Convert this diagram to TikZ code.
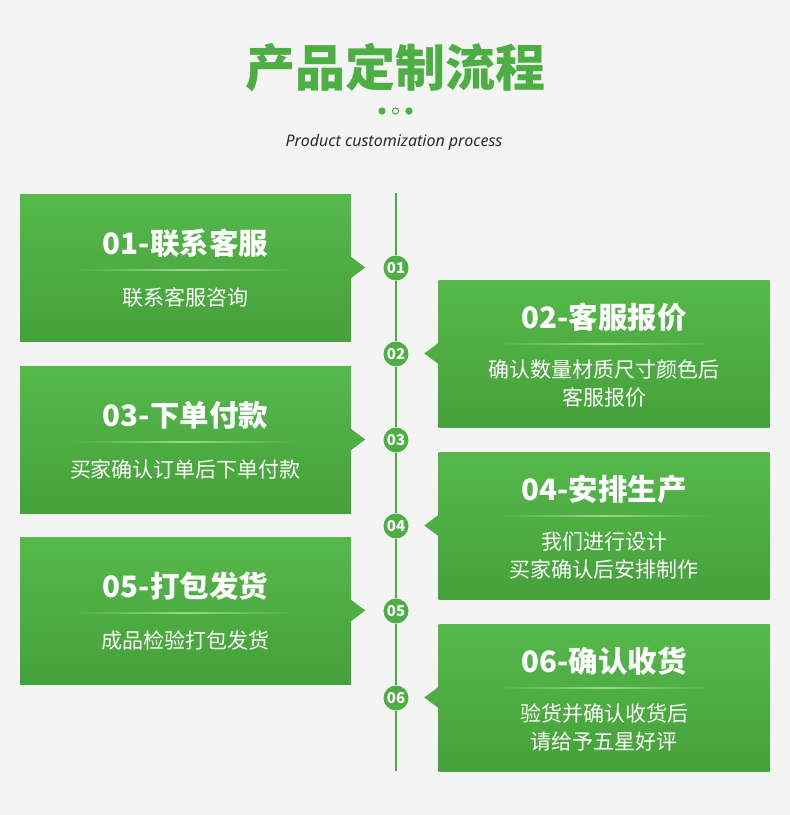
\documentclass[tikz,border=0pt]{standalone}
\usepackage{fontspec}
\setmainfont{Noto Sans}
\newfontfamily\cjk{Noto Sans CJK SC}
\usetikzlibrary{positioning,calc}
\definecolor{bgpaper}{HTML}{F4F4F4}
\definecolor{leaf}{HTML}{4DAF43}
\definecolor{leaftop}{HTML}{56B84B}
\definecolor{leafbot}{HTML}{45A13A}
\definecolor{leafmid}{HTML}{4EAD43}
\definecolor{leafsep}{HTML}{9CD593}
\definecolor{inkdark}{HTML}{2A2A2A}
\tikzset{
  stepcard/.style={rectangle,minimum width=331pt,minimum height=147pt,
                   inner sep=0pt,top color=leaftop,bottom color=leafbot},
  cardtitle/.style={font=\cjk\bfseries\fontsize{29.5}{34}\selectfont,
                    text=white,inner sep=0pt},
  cardtext/.style={font=\cjk\fontsize{21}{28}\selectfont,text=white,
                   align=center,inner sep=0pt},
  stepdot/.style={circle,fill=leaf,minimum size=25pt,inner sep=0pt,
                  text=white,font=\cjk\bfseries\fontsize{15}{15}\selectfont},
  spine/.style={draw=leaf,line width=1.3pt}
}
\begin{document}
\begin{tikzpicture}[x=1pt,y=-1pt]
  \fill[bgpaper] (0,0) rectangle (790,815);

  \node[font=\cjk\bfseries\fontsize{50}{60}\selectfont,text=leaf]
    (maintitle) at (395,68) {产品定制流程};
  \fill[leaf] (382,111) circle (3.6);
  \draw[leaf,line width=1.1pt] (395.5,111) circle (3.1);
  \fill[leaf] (409,111) circle (3.6);
  \node[font=\itshape\fontsize{16}{18}\selectfont,text=inkdark]
    (subtitle) at (394,142) {Product customization process};

  \foreach \i/\cx/\cy/\side/\dir/\ty/\head/\body in {
      1/185.5/267.5/east/1/-24.5/{01-联系客服}/{联系客服咨询},
      2/604/353.5/west/-1/-36.5/{02-客服报价}/{确认数量材质尺寸颜色后\\客服报价},
      3/185.5/439.5/east/1/-24.5/{03-下单付款}/{买家确认订单后下单付款},
      4/604/525.5/west/-1/-36.5/{04-安排生产}/{我们进行设计\\买家确认后安排制作},
      5/185.5/610.5/east/1/-24.5/{05-打包发货}/{成品检验打包发货},
      6/604/697.5/west/-1/-36.5/{06-确认收货}/{验货并确认收货后\\请给予五星好评}}{
    \node[stepcard] (c\i) at (\cx,\cy) {};
    \fill[leafmid] ([yshift=10.5pt]c\i.\side) -- ([xshift=\dir*14pt]c\i.\side)
      -- ([yshift=-10.5pt]c\i.\side) -- cycle;
    \node[cardtitle] (h\i) at ($(c\i.center)+(0,\ty)$) {\head};
    \shade[left color=leafmid,right color=leafsep]
      ($(c\i.center)+(-110,\ty+26.6)$) rectangle ($(c\i.center)+(0,\ty+27.4)$);
    \shade[left color=leafsep,right color=leafmid]
      ($(c\i.center)+(0,\ty+26.6)$) rectangle ($(c\i.center)+(110,\ty+27.4)$);
    \node[cardtext] (b\i) at ($(c\i.center)+(0,30)$) {\body};
    \node[stepdot] (d\i) at (396,\cy+0.5) {0\i};
  }

  \coordinate (spinetop) at (396,193);
  \coordinate (spinebot) at (396,771);
  \draw[spine] (spinetop) -- (d1) -- (d2) -- (d3) -- (d4) -- (d5) -- (d6)
    -- (spinebot);
\end{tikzpicture}
\end{document}
